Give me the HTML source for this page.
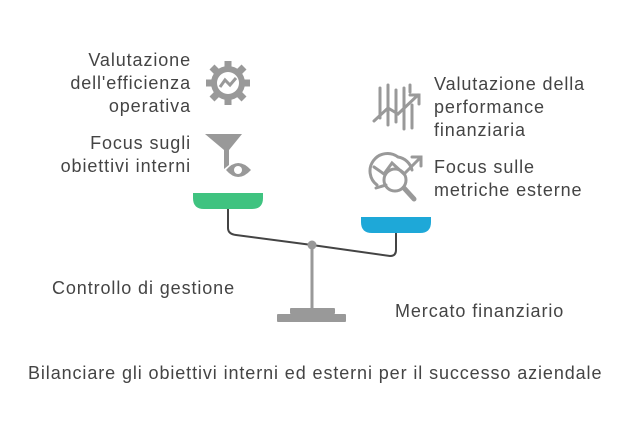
<!DOCTYPE html>
<html><head><meta charset="utf-8"><style>
body{margin:0;width:624px;height:432px;background:#fff;position:relative;overflow:hidden;font-family:"Liberation Sans",sans-serif;color:#444}
.t{position:absolute;font-size:18px;letter-spacing:0.9px;line-height:23px;white-space:nowrap}
.r{text-align:right}
</style></head><body>
<div class="t r" style="right:433px;top:49px">Valutazione<br>dell'efficienza<br>operativa</div>
<div class="t r" style="right:433px;top:132px">Focus sugli<br>obiettivi interni</div>
<div class="t" style="left:434px;top:73px">Valutazione della<br>performance<br>finanziaria</div>
<div class="t" style="left:434px;top:156px">Focus sulle<br>metriche esterne</div>
<div class="t" style="left:52px;top:277px">Controllo di gestione</div>
<div class="t" style="left:395px;top:300px">Mercato finanziario</div>
<div class="t" style="left:28px;top:362px">Bilanciare gli obiettivi interni ed esterni per il successo aziendale</div>
<svg width="624" height="432" style="position:absolute;left:0;top:0">
<g fill="none" stroke="#444" stroke-width="2">
<path d="M228 209 V228 Q228 234 236 235 L312 245 L390 256 Q396 256 396 250 V233"/>
</g>
<circle cx="312" cy="245" r="4.5" fill="#999"/>
<rect x="310.5" y="249" width="3" height="60" fill="#999"/>
<rect x="290" y="308" width="45" height="6" rx="1" fill="#999"/>
<rect x="277" y="314" width="69" height="8" rx="1" fill="#999"/>
<path d="M193 193 H263 V198 Q263 209 252 209 H204 Q193 209 193 198Z" fill="#3fc380"/>
<path d="M361 217 H431 V222 Q431 233 420 233 H372 Q361 233 361 222Z" fill="#1ea8d8"/>
<g fill="#999">
<circle cx="228" cy="83" r="17"/>
<g stroke="#999" stroke-width="7">
<line x1="228" y1="61" x2="228" y2="105"/><line x1="206" y1="83" x2="250" y2="83"/>
<line x1="212" y1="67" x2="244" y2="99"/><line x1="244" y1="67" x2="212" y2="99"/>
</g>
<circle cx="228" cy="83" r="11" fill="#fff"/>
<path d="M220 87 L225 80 L230 85 L236 78" stroke="#999" stroke-width="3" fill="none"/>
<path d="M205 134 H242 L229 150 V165 L224 169 V150Z"/>
<path d="M226 170 Q238 156 251 170 Q238 184 226 170Z"/>
<circle cx="238" cy="170" r="4" fill="#fff"/>
</g>
<g stroke="#999" stroke-width="3" fill="none" stroke-linecap="round">
<line x1="380" y1="88" x2="380" y2="118"/><line x1="388" y1="85" x2="388" y2="125"/>
<line x1="396" y1="90" x2="396" y2="122"/><line x1="404" y1="88" x2="404" y2="129"/>
<line x1="410" y1="85" x2="410" y2="92"/><line x1="412" y1="105" x2="412" y2="128"/>
<path d="M374 121 L388 108 L398 114 L418 95"/><path d="M410 95 H419 V104"/>
<path d="M377 185 A17 17 0 0 1 398 157 A17 17 0 0 1 412 170"/>
<path d="M374 167 L384 174 L392 163 L404 174 L420 158"/><path d="M412 157 H421 V166"/>
<circle cx="395" cy="180" r="11"/>
<line x1="404" y1="188" x2="414" y2="199" stroke-width="5"/>
<line x1="376" y1="188" x2="386" y2="185"/>
</g>
</svg>
</body></html>
